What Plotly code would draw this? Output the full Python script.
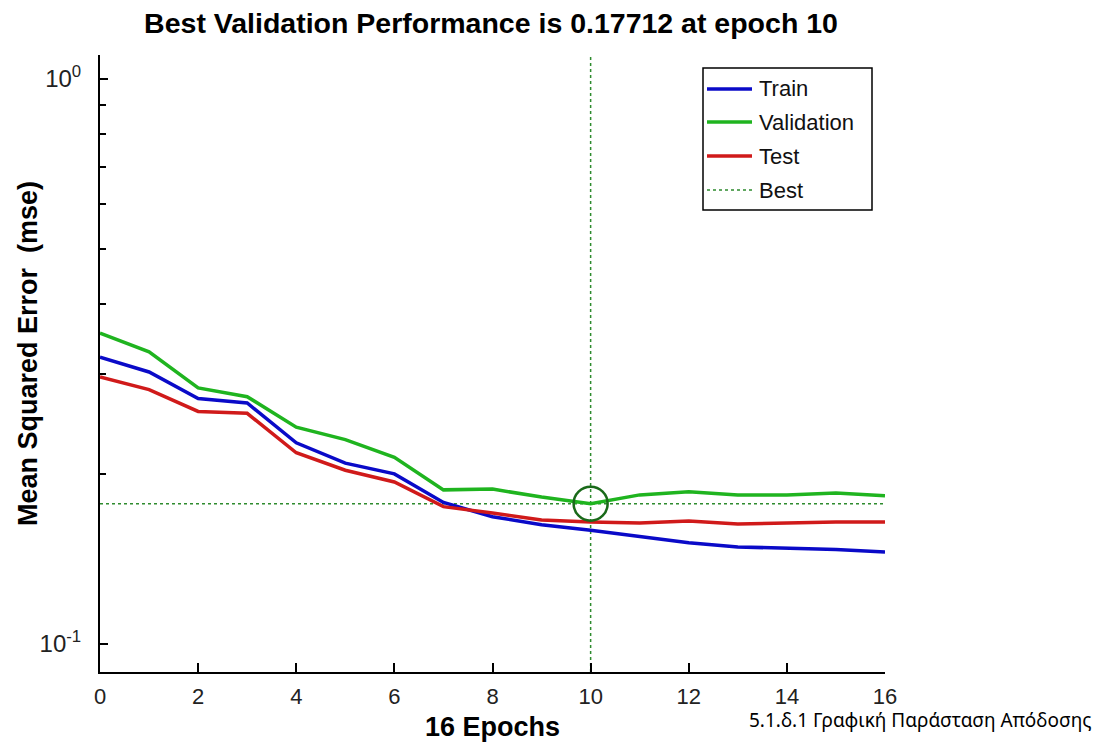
import plotly.graph_objects as go

epochs = list(range(17))
train = [0.322, 0.303, 0.272, 0.267, 0.227, 0.209, 0.200, 0.178, 0.168,
         0.1625, 0.159, 0.1547, 0.151, 0.1485, 0.148, 0.147, 0.1455]
validation = [0.355, 0.329, 0.284, 0.274, 0.242, 0.230, 0.214, 0.1874, 0.188,
              0.182, 0.17712, 0.1836, 0.186, 0.1836, 0.1836, 0.185, 0.183]
test = [0.297, 0.282, 0.258, 0.256, 0.218, 0.203, 0.1935, 0.175, 0.1705,
        0.1657, 0.1644, 0.1637, 0.165, 0.163, 0.1637, 0.1644, 0.1644]
best_epoch = 10
best_perf = 0.17712
y_lo, y_hi = 0.0892, 1.103
legend_names = ["Train", "Validation", "Test", "Best"]

blue = "#0a0ac8"
green = "#1fb41f"
red = "#d01a1a"
best_col = "#2e8b2e"
circle_col = "#1a6a1a"

fig = go.Figure()
fig.add_trace(go.Scatter(x=[0, 16], y=[best_perf, best_perf], mode="lines",
                         line=dict(color=best_col, width=1.5, dash="dot"), showlegend=False))
fig.add_trace(go.Scatter(x=[best_epoch, best_epoch], y=[y_lo, y_hi], mode="lines",
                         line=dict(color=best_col, width=1.5, dash="dot"), showlegend=False))
fig.add_trace(go.Scatter(x=epochs, y=train, mode="lines", name="Train",
                         line=dict(color=blue, width=3.5), showlegend=False))
fig.add_trace(go.Scatter(x=epochs, y=validation, mode="lines", name="Validation",
                         line=dict(color=green, width=3.5), showlegend=False))
fig.add_trace(go.Scatter(x=epochs, y=test, mode="lines", name="Test",
                         line=dict(color=red, width=3.5), showlegend=False))
fig.add_trace(go.Scatter(x=[best_epoch], y=[best_perf], mode="markers",
                         marker=dict(symbol="circle-open", size=34, color=circle_col,
                                     line=dict(width=2.5, color=circle_col)),
                         showlegend=False))

# manual legend (paper coords)
L, R, T, B = 100, 885, 55, 672
def px(x):
    return (x - L) / (R - L)
def py(y):
    return (B - y) / (B - T)

shapes = [dict(type="rect", xref="paper", yref="paper", x0=px(703), x1=px(872),
               y0=py(210), y1=py(68), line=dict(color="black", width=1.5),
               fillcolor="white", layer="above")]
leg_cols = [blue, green, red, best_col]
leg_dash = ["solid", "solid", "solid", "dot"]
leg_w = [3.5, 3.5, 3.5, 1.5]
leg_y = [89, 122, 156, 190]
annotations = []
for name, c, d, w, yy in zip(legend_names, leg_cols, leg_dash, leg_w, leg_y):
    shapes.append(dict(type="line", xref="paper", yref="paper", x0=px(707), x1=px(752),
                       y0=py(yy), y1=py(yy), line=dict(color=c, width=w, dash=d), layer="above"))
    annotations.append(dict(text=name, xref="paper", yref="paper", x=px(757), y=py(yy),
                            xanchor="left", yanchor="middle", showarrow=False,
                            font=dict(family="Arial", size=22, color="#111")))

annotations.append(dict(text="5.1.δ.1 Γραφική Παράσταση Απόδοσης", xref="paper", yref="paper",
                        x=px(747), y=py(720), xanchor="left", yanchor="middle", showarrow=False,
                        font=dict(family="Noto Sans", size=19, color="black")))
annotations.append(dict(text="<b>Mean Squared Error  (mse)</b>", xref="paper", yref="paper",
                        x=px(28), y=py(354), xanchor="center", yanchor="middle",
                        textangle=-90, showarrow=False,
                        font=dict(family="Arial", size=27, color="black")))

fig.update_layout(
    width=1100, height=742,
    margin=dict(l=L, r=1100 - R, t=T, b=742 - B),
    paper_bgcolor="white", plot_bgcolor="white",
    title=dict(text="<b>Best Validation Performance is 0.17712 at epoch 10</b>",
               x=491 / 1100, xanchor="center",
               y=1 - 23 / 742, yanchor="middle",
               font=dict(family="Arial", size=28.5, color="black")),
    shapes=shapes, annotations=annotations,
    showlegend=False,
)
fig.update_xaxes(range=[0, 16], tickvals=[0, 2, 4, 6, 8, 10, 12, 14, 16],
                 showline=True, linecolor="black", linewidth=2,
                 ticks="inside", ticklen=9, tickwidth=2, tickcolor="black",
                 showgrid=False, zeroline=False, ticklabelstandoff=4, automargin=False,
                 tickfont=dict(family="Arial", size=22, color="#222"),
                 title=dict(text="<b>16 Epochs</b>", standoff=12,
                            font=dict(family="Arial", size=27, color="black")))
fig.update_yaxes(type="log", range=[-1.0496, 0.0425], tickvals=[0.1, 1],
                 ticktext=["10<sup>-1</sup>", "10<sup>0</sup>"],
                 showline=True, linecolor="black", linewidth=2,
                 ticks="inside", ticklen=8, tickwidth=2, tickcolor="black",
                 minor=dict(ticks="inside", ticklen=6, tickwidth=1.5, tickcolor="black",
                            tickvals=[0.2, 0.3, 0.4, 0.5, 0.6, 0.7, 0.8, 0.9], showgrid=False),
                 showgrid=False, zeroline=False, ticklabelstandoff=12, automargin=False,
                 tickfont=dict(family="Arial", size=24, color="#222"))

fig.write_html("out.html")
